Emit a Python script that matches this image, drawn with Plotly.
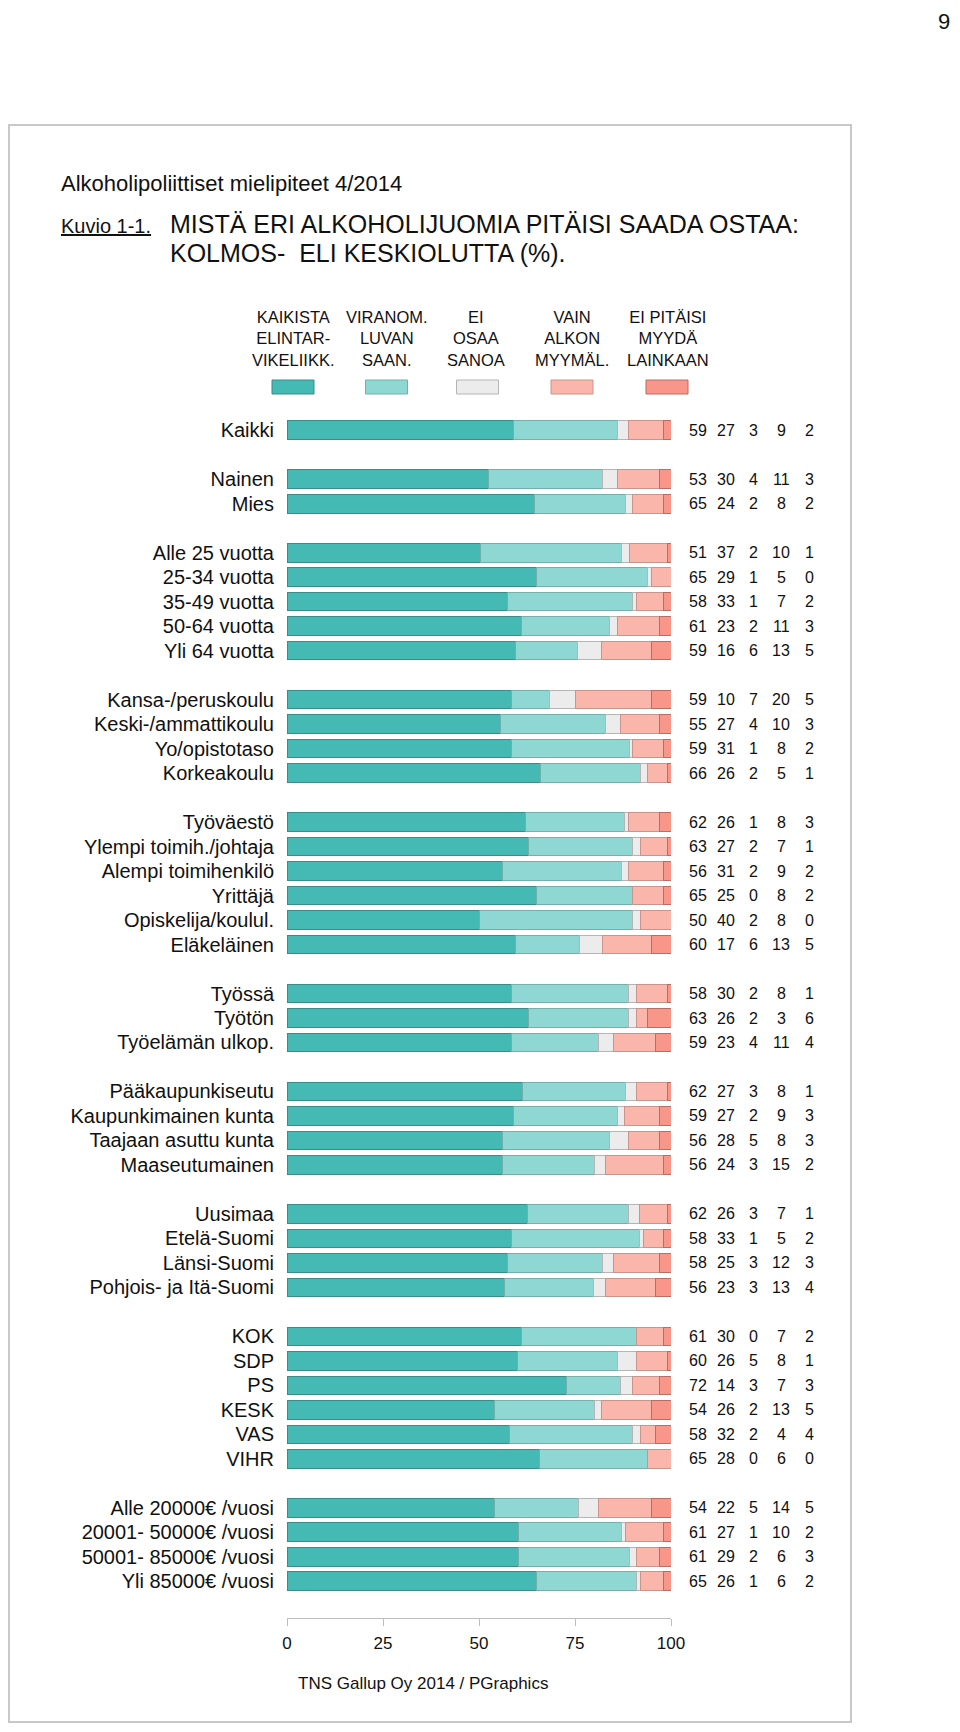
import plotly.graph_objects as go

# ---------------- data ----------------
categories = [
    "Kaikki",
    "Nainen", "Mies",
    "Alle 25 vuotta", "25-34 vuotta", "35-49 vuotta", "50-64 vuotta", "Yli 64 vuotta",
    "Kansa-/peruskoulu", "Keski-/ammattikoulu", "Yo/opistotaso", "Korkeakoulu",
    "Työväestö", "Ylempi toimih./johtaja", "Alempi toimihenkilö", "Yrittäjä",
    "Opiskelija/koulul.", "Eläkeläinen",
    "Työssä", "Työtön", "Työelämän ulkop.",
    "Pääkaupunkiseutu", "Kaupunkimainen kunta", "Taajaan asuttu kunta", "Maaseutumainen",
    "Uusimaa", "Etelä-Suomi", "Länsi-Suomi", "Pohjois- ja Itä-Suomi",
    "KOK", "SDP", "PS", "KESK", "VAS", "VIHR",
    "Alle 20000€ /vuosi", "20001- 50000€ /vuosi", "50001- 85000€ /vuosi", "Yli 85000€ /vuosi",
]
group_sizes = [1, 2, 5, 4, 6, 3, 4, 4, 6, 4]

kaikista_elintarvikeliikkeista = [59, 53, 65, 51, 65, 58, 61, 59, 59, 55, 59, 66, 62, 63, 56, 65, 50, 60,
                                  58, 63, 59, 62, 59, 56, 56, 62, 58, 58, 56, 61, 60, 72, 54, 58, 65,
                                  54, 61, 61, 65]
viranomaisluvan_saaneista = [27, 30, 24, 37, 29, 33, 23, 16, 10, 27, 31, 26, 26, 27, 31, 25, 40, 17,
                             30, 26, 23, 27, 27, 28, 24, 26, 33, 25, 23, 30, 26, 14, 26, 32, 28,
                             22, 27, 29, 26]
ei_osaa_sanoa = [3, 4, 2, 2, 1, 1, 2, 6, 7, 4, 1, 2, 1, 2, 2, 0, 2, 6,
                 2, 2, 4, 3, 2, 5, 3, 3, 1, 3, 3, 0, 5, 3, 2, 2, 0,
                 5, 1, 2, 1]
vain_alkon_myymaloista = [9, 11, 8, 10, 5, 7, 11, 13, 20, 10, 8, 5, 8, 7, 9, 8, 8, 13,
                          8, 3, 11, 8, 9, 8, 15, 7, 5, 12, 13, 7, 8, 7, 13, 4, 6,
                          14, 10, 6, 6]
ei_pitaisi_myyda_lainkaan = [2, 3, 2, 1, 0, 2, 3, 5, 5, 3, 2, 1, 3, 1, 2, 2, 0, 5,
                             1, 6, 4, 1, 3, 3, 2, 1, 2, 3, 4, 2, 1, 3, 5, 4, 0,
                             5, 2, 3, 2]

series_labels = ["KAIKISTA<br>ELINTAR-<br>VIKELIIKK.", "VIRANOM.<br>LUVAN<br>SAAN.",
                 "EI<br>OSAA<br>SANOA", "VAIN<br>ALKON<br>MYYMÄL.", "EI PITÄISI<br>MYYDÄ<br>LAINKAAN"]
series = [kaikista_elintarvikeliikkeista, viranomaisluvan_saaneista, ei_osaa_sanoa,
          vain_alkon_myymaloista, ei_pitaisi_myyda_lainkaan]
colors = ["#45B9B4", "#8FD7D2", "#ECECEC", "#FAB6AA", "#F8968A"]
edge_colors = ["#3A8C88", "#74AFAB", "#B5B5B5", "#C9948B", "#B86E65"]
tick_values = [0, 25, 50, 75, 100]

# ---------------- layout geometry (page pixels; body has an 8px margin) ----------------
OFF = 8
PAGE_W, PAGE_H = 960, 1732
W, H = PAGE_W - 2 * OFF, PAGE_H - 2 * OFF   # fits the window without scrollbars
PLOT_X0, PLOT_X1 = 287, 671
PLOT_Y0, PLOT_Y1 = 418, 1618
L, R = PLOT_X0 - OFF, (OFF + W) - PLOT_X1
T, B = PLOT_Y0 - OFF, (OFF + H) - PLOT_Y1
PW, PH = W - L - R, H - T - B
FONT = "Liberation Sans, Arial, Helvetica, sans-serif"


def px(x, y):
    """page pixel -> paper coords"""
    return (x - PLOT_X0) / PW, (PLOT_Y1 - y) / PH


# row positions with one empty row between groups
positions = []
slot = 0
for g in group_sizes:
    for _ in range(g):
        positions.append(slot)
        slot += 1
    slot += 1
n_slots = slot - 1

totals = [sum(s[i] for s in series) for i in range(len(categories))]

fig = go.Figure()
for vals, col, ec in zip(series, colors, edge_colors):
    fig.add_trace(go.Bar(
        y=positions,
        x=[v / t * 100 for v, t in zip(vals, totals)],
        orientation="h",
        width=0.76,
        marker=dict(color=col, line=dict(color=ec, width=1)),
        showlegend=False,
        hoverinfo="skip",
    ))

annotations = []
# value columns on the right (x in paper coords, y in data coords)
col_x = [698, 725.5, 753, 781, 809]
for cx, vals in zip(col_x, series):
    for p, v in zip(positions, vals):
        annotations.append(dict(
            x=px(cx, 0)[0], y=p, xref="paper", yref="y", text=str(v), showarrow=False,
            xanchor="center", yanchor="middle", font=dict(size=16, color="#111", family=FONT)))


def add_text(x, y, text, size, xanchor="left", yanchor="middle", **fontkw):
    xp, yp = px(x, y)
    f = dict(size=size, color="#111", family=FONT)
    f.update(fontkw)
    annotations.append(dict(x=xp, y=yp, xref="paper", yref="paper", text=text, showarrow=False,
                            xanchor=xanchor, yanchor=yanchor, font=f, borderpad=0))


add_text(944, 8, "9", 22, xanchor="center", yanchor="top")
add_text(60, 183, "Alkoholipoliittiset mielipiteet 4/2014", 22)
add_text(60, 226, "Kuvio 1-1.", 20, lineposition="under")
add_text(169, 224, "MISTÄ ERI ALKOHOLIJUOMIA PITÄISI SAADA OSTAA:", 25)
add_text(169, 253, "KOLMOS-  ELI KESKIOLUTTA (%).", 25)
add_text(297, 1683, "TNS Gallup Oy 2014 / PGraphics", 17)

shapes = []
legend_x = [293, 387, 476, 572, 668]
swatch_x = [293, 386.5, 477.5, 572, 667]
for lx, sx, lab, col, ec in zip(legend_x, swatch_x, series_labels, colors, edge_colors):
    add_text(lx, 339, lab, 16.5, xanchor="center")
    x0, y0 = px(sx - 21, 394)
    x1, y1 = px(sx + 21, 380)
    shapes.append(dict(type="rect", xref="paper", yref="paper", x0=x0, y0=y0, x1=x1, y1=y1,
                       fillcolor=col, line=dict(color=ec, width=1)))

# outer frame
bx0, by0 = px(9, 1722)
bx1, by1 = px(851, 125)
shapes.append(dict(type="rect", xref="paper", yref="paper", x0=bx0, y0=by0, x1=bx1, y1=by1,
                   line=dict(color="#C8C8C8", width=2), fillcolor="rgba(0,0,0,0)", layer="below"))

fig.update_layout(
    width=W, height=H,
    margin=dict(l=L, r=R, t=T, b=B, pad=0),
    paper_bgcolor="white", plot_bgcolor="white",
    barmode="stack", bargap=0.24,
    annotations=annotations, shapes=shapes,
    font=dict(family=FONT, color="#111"),
    xaxis=dict(range=[0, 100], tickvals=tick_values, ticks="outside", ticklen=7,
               tickcolor="#BDBDBD", showline=True, linecolor="#BDBDBD", linewidth=1,
               showgrid=False, zeroline=False, tickfont=dict(size=17, family=FONT, color="#111"),
               ticklabelstandoff=3, fixedrange=True),
    yaxis=dict(range=[n_slots + 0.5, -0.5], tickvals=positions, ticktext=categories,
               showgrid=False, zeroline=False, showline=False, ticks="",
               ticklabelstandoff=12, tickfont=dict(size=20, family=FONT, color="#111"),
               fixedrange=True),
)

fig.write_html("out.html")
